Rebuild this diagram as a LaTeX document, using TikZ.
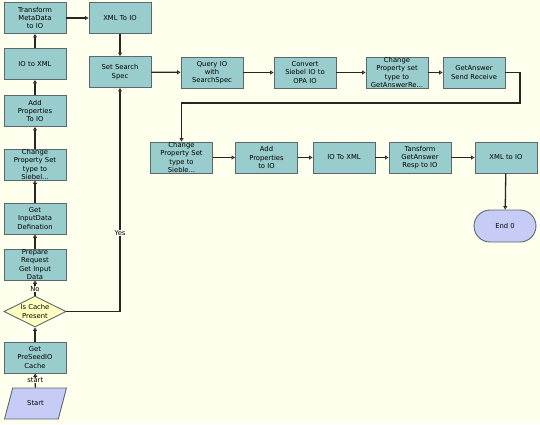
\documentclass[tikz,border=0pt]{standalone}
\usepackage{fontspec}
\setmainfont{DejaVu Sans}
\usetikzlibrary{arrows.meta,shapes.geometric,shapes.misc}
\definecolor{bg}{HTML}{FFFFEE}
\definecolor{boxfill}{HTML}{99CCCC}
\definecolor{boxline}{HTML}{5A6A6A}
\definecolor{dia}{HTML}{FFFFC0}
\definecolor{term}{HTML}{C6CCF6}
\begin{document}
\begin{tikzpicture}[x=1pt,y=-1pt,
  every node/.style={font=\fontsize{6.8}{8.3}\selectfont},
  taskbox/.style={draw=boxline,line width=0.9pt,fill=boxfill,minimum width=62pt,minimum height=31pt,inner sep=0pt,align=center,text width=60pt},
  decision/.style={diamond,draw=boxline,line width=0.9pt,fill=dia,minimum width=62pt,minimum height=31pt,inner sep=0pt,align=center,aspect=2},
  startnode/.style={trapezium,trapezium left angle=60,trapezium right angle=120,draw=boxline,line width=0.9pt,fill=term,minimum width=62pt,minimum height=31pt,inner sep=0pt,trapezium stretches=true},
  endnode/.style={rounded rectangle,draw=boxline,line width=0.9pt,fill=term,minimum width=62pt,minimum height=32pt,inner sep=0pt},
  conn/.style={draw=black!85,line width=1.3pt,-{Triangle[open,length=3.5pt,width=4pt,line width=0.8pt]}},
  lbl/.style={fill=bg,inner sep=0.5pt}
]
\fill[bg] (0,0) rectangle (540,424);
\useasboundingbox (0,0) rectangle (540,424);

\node[taskbox] (tmd) at (35,18) {Transform\\MetaData\\to IO};
\node[taskbox] (xml1) at (120,18) {XML To IO};
\node[taskbox] (ioxml1) at (35,64) {IO to XML};
\node[taskbox] (sss) at (120,72) {Set Search\\Spec};
\node[taskbox] (addp1) at (35,111) {Add\\Properties\\To IO};
\node[taskbox] (cps1) at (35,164.5) {Change\\Property Set\\type to\\Siebel...};
\node[taskbox] (gid) at (35,218.5) {Get\\InputData\\Defination};
\node[taskbox] (prep) at (35,264.5) {Prepare\\Request\\Get Input\\Data};
\node[decision] (cache) at (35,311.5) {Is Cache\\Present};
\node[taskbox] (gpc) at (35,357.5) {Get\\PreSeedIO\\Cache};
\node[startnode] (start) at (35.5,403.5) {Start};

\node[taskbox] (qio) at (212,72.5) {Query IO\\with\\SearchSpec};
\node[taskbox] (conv) at (305,72.5) {Convert\\Siebel IO to\\OPA IO};
\node[taskbox] (cps2) at (397,72.5) {Change\\Property set\\type to\\GetAnswerRe...};
\node[taskbox] (gasr) at (474,72.5) {GetAnswer\\Send Receive};

\node[taskbox] (cps3) at (181.5,157.5) {Change\\Property Set\\type to\\Sieble...};
\node[taskbox] (addp2) at (266.5,157.5) {Add\\Properties\\to IO};
\node[taskbox] (ioxml2) at (344,157.5) {IO To XML};
\node[taskbox] (tgr) at (420,157.5) {Tansform\\GetAnswer\\Resp to IO};
\node[taskbox] (xml2) at (506,157.5) {XML to IO};
\node[endnode] (end) at (505,226) {End 0};

\coordinate (c1) at (520,72.5);
\coordinate (c2) at (520,103);
\coordinate (c3) at (181.5,103);

\draw[conn] (start) -- node[lbl] {start} (gpc);
\draw[conn] (gpc) -- (cache);
\draw[conn] (cache) -- node[lbl,pos=0.45] {No} (prep);
\draw[conn] (prep) -- (gid);
\draw[conn] (gid) -- (cps1);
\draw[conn] (cps1) -- (addp1);
\draw[conn] (addp1) -- (ioxml1);
\draw[conn] (ioxml1) -- (tmd);
\draw[conn] (tmd) -- (xml1);
\draw[conn] (xml1) -- (sss);
\draw[conn] (cache.east) -| node[lbl,pos=0.675] {Yes} (sss.south);
\draw[conn] (sss) -- (qio);
\draw[conn] (qio) -- (conv);
\draw[conn] (conv) -- (cps2);
\draw[conn] (cps2) -- (gasr);
\draw[conn] (gasr.east) -- (c1) -- (c2) -- (c3) -- (cps3.north);
\draw[conn] (cps3) -- (addp2);
\draw[conn] (addp2) -- (ioxml2);
\draw[conn] (ioxml2) -- (tgr);
\draw[conn] (tgr) -- (xml2);
\draw[conn] (xml2) -- (end);
\end{tikzpicture}
\end{document}
